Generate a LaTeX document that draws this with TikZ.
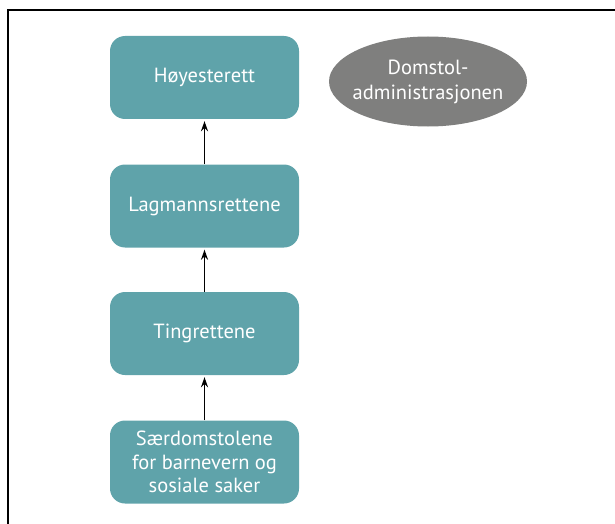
\documentclass[tikz,border=0pt]{standalone}
\usepackage{fontspec}
\setmainfont{PT Sans}
\usetikzlibrary{arrows.meta,shapes.geometric}
\definecolor{courtteal}{HTML}{5FA3AA}
\definecolor{admingray}{HTML}{7F7F7E}
\tikzset{
  court/.style={draw=none, fill=courtteal, rounded corners=15pt,
    minimum width=189pt, minimum height=83pt, text=white,
    font=\fontsize{20.5}{23.5}\selectfont, align=center, inner sep=0pt},
  admin/.style={draw=none, fill=admingray, ellipse, minimum width=198pt,
    minimum height=90pt, inner sep=0pt},
  admintext/.style={text=white, font=\fontsize{20.5}{25}\selectfont,
    align=center, inner sep=0pt},
  appeal/.style={-{Stealth[length=10pt,width=7pt]}, line width=1.4pt, black, shorten >=2pt}
}
\begin{document}
\begin{tikzpicture}[x=1pt,y=-1pt]
  \useasboundingbox (0,0) rectangle (615,524);
  % open frame: top and left edges
  \draw[line width=2.5pt] (615,10) -- (8,10) -- (8,524);
  \node[court] (hoy) at (204.5,77.5) {Høyesterett};
  \node[court] (lag) at (204.5,206) {Lagmannsrettene};
  \node[court] (ting) at (204.5,333.5) {Tingrettene};
  \node[court] (saer) at (204.5,462) {Særdomstolene\\for barnevern og\\sosiale saker};
  \node[admin, label={[admintext]center:Domstol-\\administrasjonen}] (dom) at (428,81.5) {};
  \draw[appeal] (lag) -- (hoy);
  \draw[appeal] (ting) -- (lag);
  \draw[appeal] (saer) -- (ting);
\end{tikzpicture}
\end{document}
